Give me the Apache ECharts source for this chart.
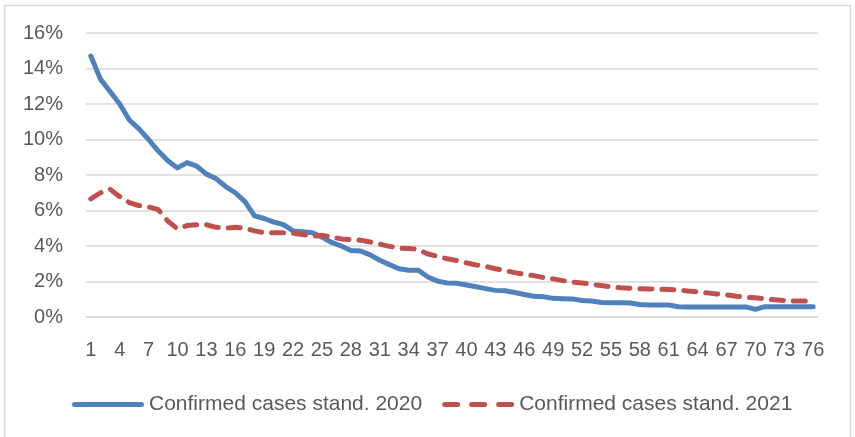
<!DOCTYPE html>
<html>
<head>
<meta charset="utf-8">
<script src="https://cdn.jsdelivr.net/npm/echarts@6/dist/echarts.min.js"></script>
<style>
html,body{margin:0;padding:0;background:#fff;}
#chart{width:855px;height:437px;}
</style>
</head>
<body>
<div id="chart"></div>
<script>
const categories = ['1','2','3','4','5','6','7','8','9','10','11','12','13','14','15','16','17','18','19','20',
'21','22','23','24','25','26','27','28','29','30','31','32','33','34','35','36','37','38','39','40',
'41','42','43','44','45','46','47','48','49','50','51','52','53','54','55','56','57','58','59','60',
'61','62','63','64','65','66','67','68','69','70','71','72','73','74','75','76'];

const series2020Name = 'Confirmed cases stand. 2020';
const series2021Name = 'Confirmed cases stand. 2021';

const values2020 = [14.7,13.4,12.7,12.0,11.1,10.6,10.0,9.35,8.8,8.4,
8.7,8.5,8.05,7.8,7.35,7.0,6.5,5.7,5.55,5.35,
5.2,4.85,4.8,4.75,4.5,4.2,4.0,3.75,3.72,3.5,
3.2,2.95,2.72,2.63,2.63,2.25,2.02,1.92,1.9,1.8,
1.7,1.6,1.5,1.48,1.38,1.27,1.17,1.14,1.05,1.03,
1.02,0.93,0.9,0.82,0.8,0.8,0.79,0.7,0.68,0.68,
0.68,0.58,0.57,0.57,0.57,0.57,0.57,0.57,0.57,0.43,
0.58,0.58,0.58,0.58,0.58,0.58];

const values2021 = [6.65,7.0,7.2,6.78,6.45,6.28,6.2,6.05,5.4,4.97,
5.15,5.2,5.2,5.05,5.0,5.05,5.0,4.85,4.75,4.74,
4.74,4.72,4.65,4.55,4.6,4.5,4.4,4.36,4.33,4.23,
4.1,3.98,3.88,3.86,3.8,3.55,3.42,3.28,3.18,3.05,
2.93,2.85,2.72,2.62,2.5,2.4,2.33,2.22,2.15,2.05,
1.97,1.92,1.84,1.77,1.7,1.65,1.62,1.59,1.58,1.57,
1.55,1.52,1.46,1.42,1.36,1.3,1.25,1.17,1.12,1.08,
1.03,0.97,0.92,0.9,0.9,0.9];

const yTicks = [0,2,4,6,8,10,12,14,16];

const FONT = 'Liberation Sans, Arial, sans-serif';
const solidIcon = 'path://M2.5,0 L69.5,0 A2.5,2.5 0 0 1 69.5,5 L2.5,5 A2.5,2.5 0 0 1 2.5,0 Z';
const dashIcon = 'path://M2.5,0 L15.5,0 A2.5,2.5 0 0 1 15.5,5 L2.5,5 A2.5,2.5 0 0 1 2.5,0 Z ' +
  'M29.5,0 L42.5,0 A2.5,2.5 0 0 1 42.5,5 L29.5,5 A2.5,2.5 0 0 1 29.5,0 Z ' +
  'M56.5,0 L69.5,0 A2.5,2.5 0 0 1 69.5,5 L56.5,5 A2.5,2.5 0 0 1 56.5,0 Z';

const chart = echarts.init(document.getElementById('chart'), null, {renderer:'canvas'});
chart.setOption({
  animation:false,
  backgroundColor:'#ffffff',
  graphic:[{
    type:'rect', silent:true, z:-10,
    shape:{x:4.5,y:5.5,width:846,height:440},
    style:{fill:'none',stroke:'#d9d9d9',lineWidth:1.5}
  }],
  grid:{left:86,right:37,top:33,bottom:120,containLabel:false},
  legend:{
    left:67, top:389,
    itemWidth:72, itemHeight:5, itemGap:20,
    textStyle:{fontFamily:FONT,fontSize:21,color:'#595959'},
    data:[
      {name:series2020Name, icon:solidIcon},
      {name:series2021Name, icon:dashIcon}
    ]
  },
  xAxis:{
    type:'category',
    data:categories,
    boundaryGap:true,
    axisLine:{show:true,lineStyle:{color:'#d9d9d9',width:1.5}},
    axisTick:{show:false},
    axisLabel:{interval:2,margin:23,fontFamily:FONT,fontSize:20,color:'#595959'}
  },
  yAxis:{
    type:'value',
    min:yTicks[0], max:yTicks[yTicks.length-1], interval:2,
    axisLine:{show:false},
    axisTick:{show:false},
    splitLine:{lineStyle:{color:'#d9d9d9',width:1.5}},
    axisLabel:{margin:23,fontFamily:FONT,fontSize:20,color:'#595959',formatter:'{value}%'}
  },
  series:[
    {
      name:series2020Name, type:'line', data:values2020,
      showSymbol:false, symbol:'none', smooth:false,
      color:'#4f81bd',
      lineStyle:{color:'#4f81bd',width:5,cap:'round',join:'round'}
    },
    {
      name:series2021Name, type:'line', data:values2021,
      showSymbol:false, symbol:'none', smooth:false,
      color:'#c0504d',
      lineStyle:{color:'#c0504d',width:5,type:[12,10],cap:'round',join:'round'}
    }
  ]
});
</script>
</body>
</html>
